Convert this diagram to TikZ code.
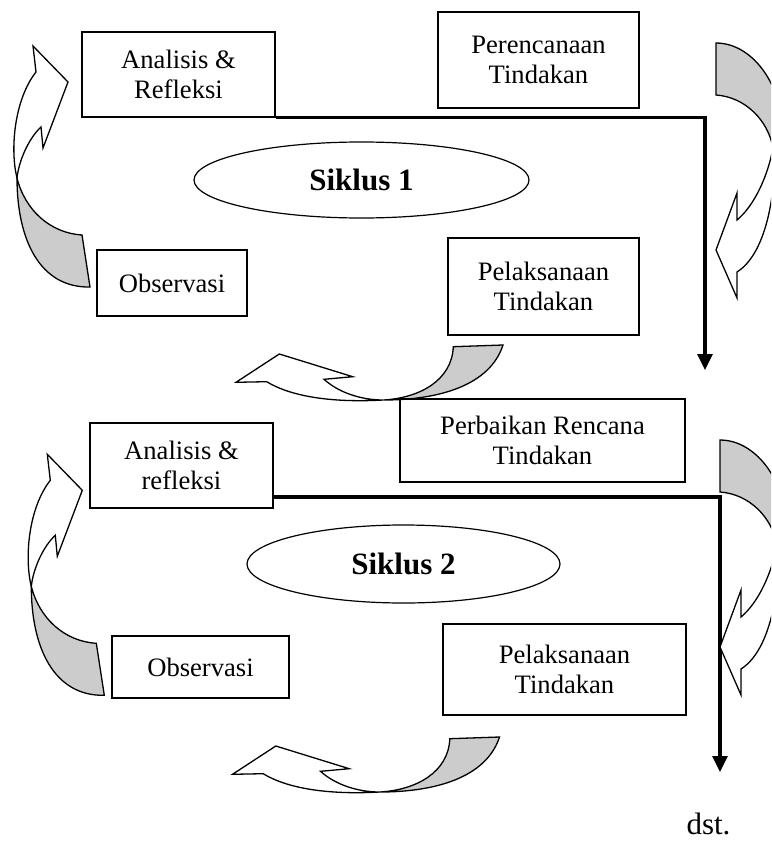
\documentclass[tikz,border=0pt]{standalone}
\usepackage{fontspec}
\setmainfont{Liberation Serif}
\usetikzlibrary{shapes.geometric,arrows.meta}
\tikzset{
  box/.style={draw, line width=1.2pt, align=center, inner sep=0pt, font=\fontsize{26.6}{30.6}\selectfont},
  cyclebox/.style={draw, ellipse, line width=1.2pt, inner sep=0pt, font=\fontsize{31}{36}\selectfont\bfseries},
  flow/.style={line width=3.2pt, -{Triangle[width=15pt,length=16pt]}},
  band/.style={draw, line width=1.3pt, line join=miter},
  back/.style={band, fill=black!20},
  front/.style={band, fill=white},
}
\newcommand\drawLband{%
  \path[back] (17,178) .. controls (17,240) and (40,288) .. (90,287) -- (82,235) .. controls (50,233) and (25,210) .. (17,178) -- cycle;
  \path[front] (36,72) -- (33,46) -- (68,82) -- (43,148) -- (41,127) .. controls (29,138) and (19,160) .. (17,178) .. controls (10,150) and (14,100) .. (36,72) -- cycle;
}
\newcommand\drawRband{%
  \path[back] (716,43) .. controls (762,43) and (795,110) .. (773,148) .. controls (768,120) and (745,97) .. (716,95) -- cycle;
  \path[front] (773,148) .. controls (768,175) and (755,205) .. (737,220) -- (737,193) -- (716,250) -- (737,298) -- (737,272) .. controls (772,250) and (777,170) .. (773,148) -- cycle;
}
\newcommand\drawBband{%
  \path[back] (383.3,400) .. controls (440,400) and (490,385) .. (503,345) -- (453.3,346.7) .. controls (452,380) and (420,398) .. (383.3,400) -- cycle;
  \path[front] (383.3,400) .. controls (330,403) and (290,396) .. (266.7,381.7) -- (236,382.3) -- (279.3,354) -- (352.7,376.7) -- (324,379.3) .. controls (338,392) and (360,400) .. (383.3,400) -- cycle;
}
\begin{document}
\begin{tikzpicture}[x=1pt,y=-1pt]
\useasboundingbox (0,0) rectangle (771,843);
\clip (0,0) rectangle (771,843);
\fill[white] (0,0) rectangle (771,843);

% ---------- Siklus 1 ----------
\node[box, minimum width=193pt, minimum height=85pt] (a1) at (178.5,74.5) {Analisis \&\\Refleksi};
\node[box, minimum width=201pt, minimum height=96pt] (p1) at (538.5,60) {Perencanaan\\Tindakan};
\node[cyclebox, minimum width=335pt, minimum height=76pt] (s1) at (361.5,180) {Siklus 1};
\node[box, minimum width=150pt, minimum height=66pt] (o1) at (172,283) {Observasi};
\node[box, minimum width=191pt, minimum height=97pt] (l1) at (543.5,286.5) {Pelaksanaan\\Tindakan};
\coordinate (e1) at (705,370);
\draw[flow] (a1.south east) -| (e1);

\drawLband
\drawRband
\drawBband

% ---------- Siklus 2 ----------
\node[box, minimum width=285pt, minimum height=83pt] (pb) at (542.5,440.5) {Perbaikan Rencana\\Tindakan};
\node[box, minimum width=183pt, minimum height=85pt] (a2) at (181.5,465.5) {Analisis \&\\refleksi};
\node[cyclebox, minimum width=313pt, minimum height=78pt] (s2) at (403.5,564) {Siklus 2};
\node[box, minimum width=177pt, minimum height=62pt] (o2) at (200.5,667) {Observasi};
\node[box, minimum width=243pt, minimum height=91pt] (l2) at (564.5,669.5) {Pelaksanaan\\Tindakan};
\coordinate (c2) at (720,497);
\coordinate (e2) at (720,772);
\draw[flow] (c2 -| a2.east) -- (c2) -- (e2);

\begin{scope}[shift={(14.3,408.3)}]\drawLband\end{scope}
\begin{scope}[shift={(4,397)}]\drawRband\end{scope}
\begin{scope}[shift={(-3.5,392)}]\drawBband\end{scope}

\node[anchor=base, inner sep=0pt, font=\fontsize{31}{36}\selectfont] (dst) at (708.5,834) {dst.};
\end{tikzpicture}
\end{document}
